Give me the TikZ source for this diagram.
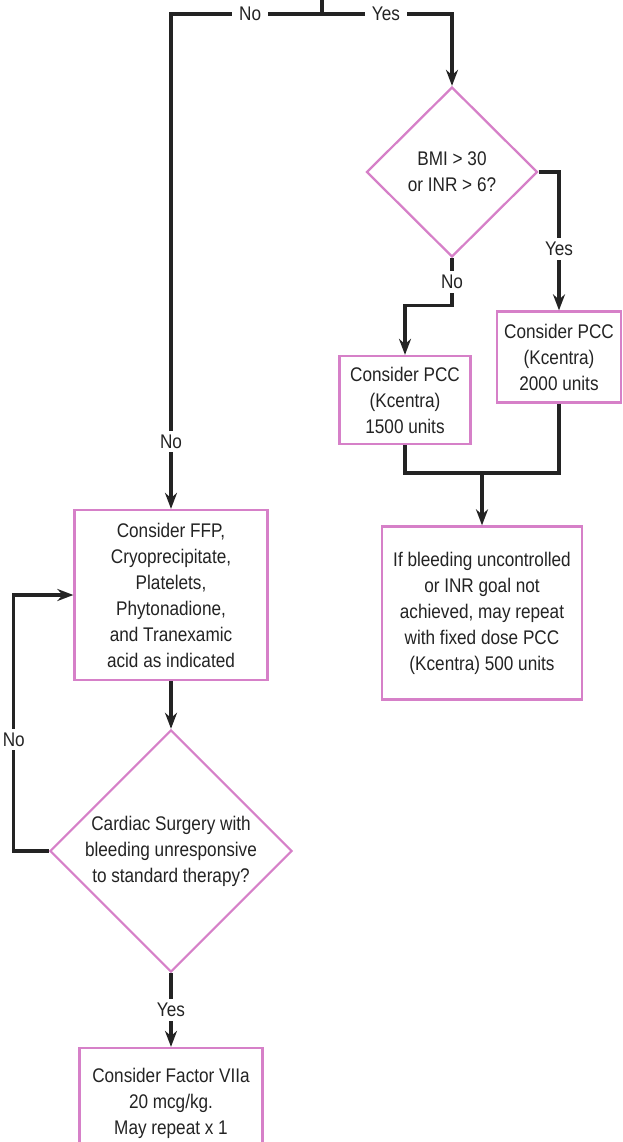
\documentclass[tikz,border=0pt]{standalone}
\usepackage{fontspec}
\setmainfont{Liberation Sans}[FakeStretch=0.87]
\usepackage{xcolor}
\usetikzlibrary{positioning,arrows.meta,shapes.geometric}
\definecolor{boxpink}{RGB}{214,128,200}
\definecolor{ink}{RGB}{35,35,35}

\begin{document}
\begin{tikzpicture}[x=0.75pt, y=-0.75pt, >={Stealth[length=12pt,width=9pt]}, font={\fontsize{14.8}{19.5}\selectfont}]
\tikzstyle{box}=[draw=boxpink, line width=1.7pt, align=center, text=ink, inner sep=2pt]
\tikzstyle{choice}=[box, diamond, aspect=1, inner sep=0pt]
\tikzstyle{link}=[draw=ink, line width=2.3pt]
\tikzstyle{lbl}=[fill=white, text=ink, inner xsep=5pt, inner ysep=3pt]

\useasboundingbox (0,0) rectangle (623,1142);

\coordinate (top) at (322,0);
\coordinate (split) at (322,14);
\node[choice, minimum width=128.25pt, minimum height=127.5pt] (bmi) at (452,172) {BMI > 30\\or INR > 6?};
\node[box, minimum width=93pt, minimum height=68.25pt] (pcc2k) at (559,357) {Consider PCC\\(Kcentra)\\2000 units};
\node[box, minimum width=98.25pt, minimum height=66pt] (pcc15) at (405,400) {Consider PCC\\(Kcentra)\\1500 units};
\node[box, minimum width=150pt, minimum height=129.75pt] (redose) at (482,613) {If bleeding uncontrolled\\or INR goal not\\achieved, may repeat\\with fixed dose PCC\\(Kcentra) 500 units};
\node[box, minimum width=144.75pt, minimum height=127.5pt] (ffp) at (171,595) {Consider FFP,\\Cryoprecipitate,\\Platelets,\\Phytonadione,\\and Tranexamic\\acid as indicated};
\node[choice, minimum width=181.5pt, minimum height=181.5pt] (cardiac) at (171,851) {Cardiac Surgery with\\bleeding unresponsive\\to standard therapy?};
\node[box, minimum width=137.25pt, minimum height=82.5pt] (f7) at (171,1103) {Consider Factor VIIa\\20 mcg/kg.\\May repeat x 1};
\coordinate (join) at (482,473);

\draw[link] (top) -- (split);
\draw[link,->] (split) -| node[lbl, pos=0.238]{No} node[lbl, pos=0.932]{No} (ffp.north);
\draw[link,->] (split) -| node[lbl, pos=0.246]{Yes} (bmi.north);
\draw[link,->] (bmi.east) -| node[lbl, pos=0.777]{Yes} (pcc2k.north);
\draw[link,->] (bmi.south) -- node[lbl]{No} ++(0,47) -| (pcc15.north);
\draw[link] (pcc15.south) |- (join);
\draw[link] (pcc2k.south) |- (join);
\draw[link,->] (join) -- (redose.north);
\draw[link,->] (ffp.south) -- (cardiac.north);
\draw[link,->] (cardiac.west) -- ++(-35,0) |- node[lbl, pos=0.218]{No} (ffp.west);
\draw[link,->] (cardiac.south) -- node[lbl]{Yes} (f7.north);
\end{tikzpicture}
\end{document}
